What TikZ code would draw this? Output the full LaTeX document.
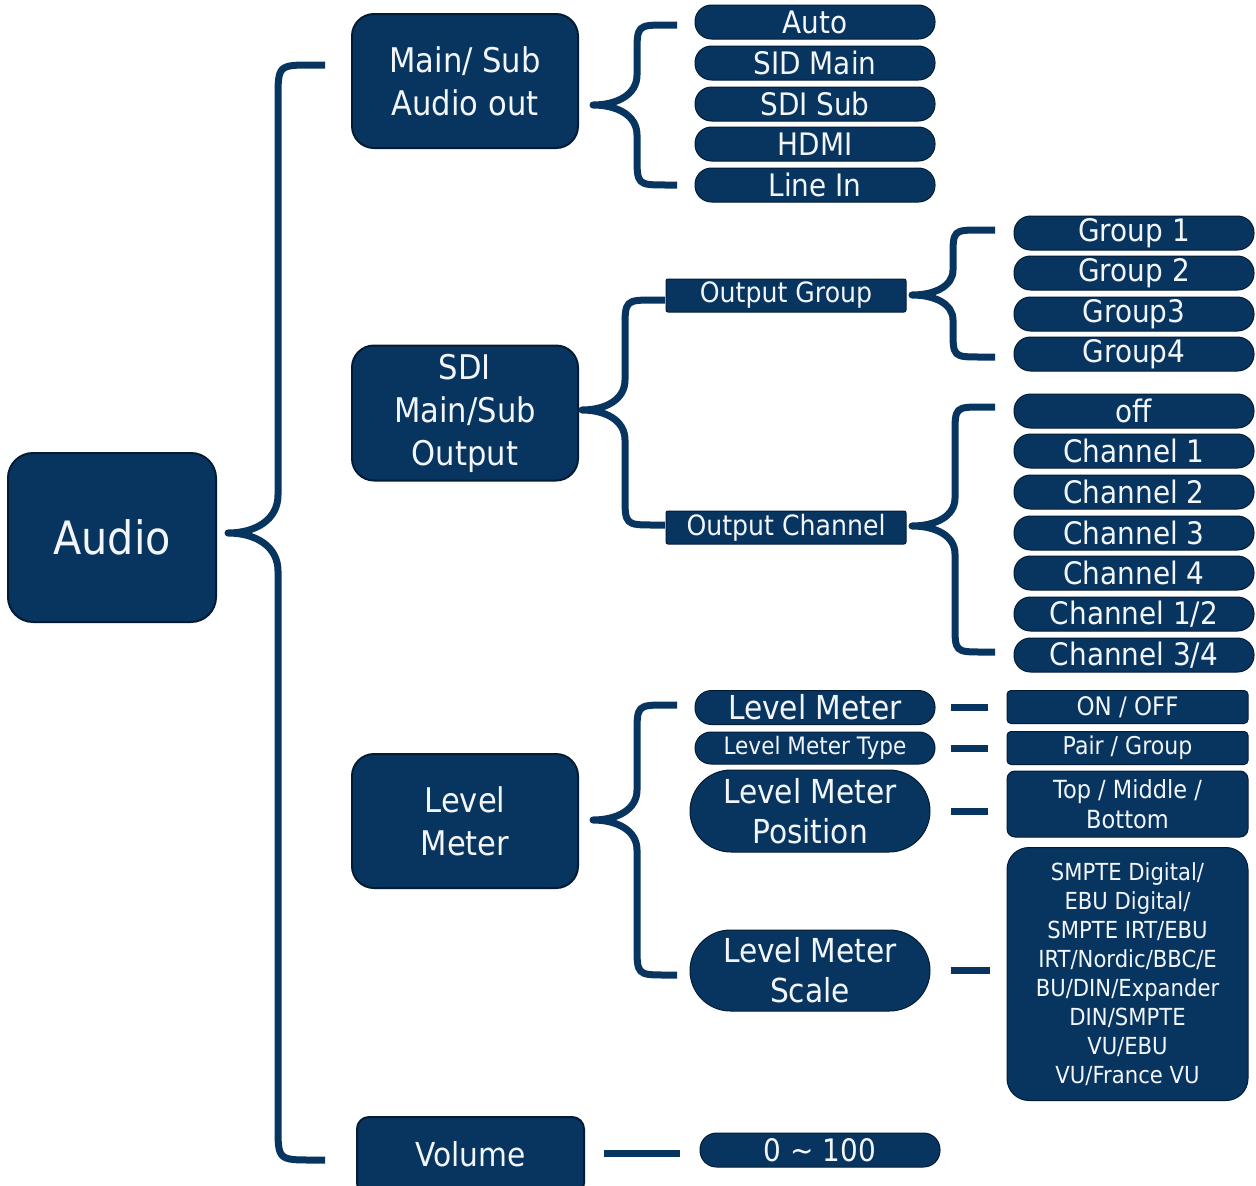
\documentclass[tikz,border=0pt]{standalone}
\usepackage{fontspec}
\setmainfont{DejaVu Sans}[FakeStretch=0.9]
\usetikzlibrary{calc}
\definecolor{navy}{RGB}{8,53,96}
\definecolor{edgec}{RGB}{3,28,52}
\definecolor{txt}{RGB}{242,246,250}
\newcommand\mybrace[8]{%
  \draw[bracel] (#6,#4) -- ({#3+#7},#4) .. controls (#3,#4) .. (#3,{#4+#7})
    -- (#3,{#2-#8}) .. controls (#3,{#2-0.35*#8}) and ({#3-0.45*(#3-#1)},#2) .. (#1,#2)
    .. controls ({#3-0.45*(#3-#1)},#2) and (#3,{#2+0.35*#8}) .. (#3,{#2+#8})
    -- (#3,{#5-#7}) .. controls (#3,#5) .. ({#3+#7},#5) -- (#6,#5);}
\tikzset{
  base/.style={draw=edgec, fill=navy, text=txt, inner sep=0pt, align=center},
  bigbox/.style={base, line width=2pt, rounded corners=22pt, minimum width=226pt,
     minimum height=134pt, font=\fontsize{34}{43}\selectfont},
  pill/.style={base, line width=1pt, rounded corners=16.5pt, minimum width=240pt,
     minimum height=34pt, font=\fontsize{31}{36}\selectfont},
  tagbox/.style={base, line width=1pt, rounded corners=2pt, minimum width=240pt,
     minimum height=33pt, font=\fontsize{28}{32}\selectfont},
  valbox/.style={base, line width=1pt, rounded corners=4pt, minimum width=241pt,
     minimum height=33pt, font=\fontsize{25}{29}\selectfont},
  bracel/.style={draw=navy, line width=7pt, line join=round},
  dashl/.style={draw=navy, line width=7pt},
}
\begin{document}
\begin{tikzpicture}[x=1pt,y=-1pt]
\useasboundingbox (0,0) rectangle (1256,1186);
\clip (0,0) rectangle (1256,1186);
\fill[white] (0,0) rectangle (1256,1186);

% main boxes
\node[bigbox, minimum width=208pt, minimum height=169pt, rounded corners=25pt,
      font=\fontsize{46}{50}\selectfont] (audio) at (112,537.5) {Audio};
\node[bigbox] (mainsub) at (465,81) {Main/ Sub\\Audio out};
\node[bigbox, minimum height=135pt] (sdi) at (465,413) {SDI\\Main/Sub\\Output};
\node[bigbox] (lmbox) at (465,821) {Level\\Meter};
\node[bigbox, minimum width=227pt, minimum height=78pt, rounded corners=12pt] (vol) at (470.5,1156) {};
\node[text=txt, font=\fontsize{33}{36}\selectfont] at (470.5,1154) {Volume};

% Audio out items
\node[pill] (auto) at (815,22) {Auto};
\node[pill] (sidmain) at (815,63) {SID Main};
\node[pill] (sdisub) at (815,104) {SDI Sub};
\node[pill] (hdmi) at (815,144) {HDMI};
\node[pill] (linein) at (815,185) {Line In};

% output group / channel
\node[tagbox] (ogroup) at (786,295.5) {Output Group};
\node[tagbox] (ochan) at (786,527.5) {Output Channel};

\node[pill] (g1) at (1134,233) {Group 1};
\node[pill] (g2) at (1134,273) {Group 2};
\node[pill] (g3) at (1134,314) {Group3};
\node[pill] (g4) at (1134,354) {Group4};

\node[pill] (c0) at (1134,411) {off};
\node[pill] (c1) at (1134,451) {Channel 1};
\node[pill] (c2) at (1134,492) {Channel 2};
\node[pill] (c3) at (1134,533) {Channel 3};
\node[pill] (c4) at (1134,573) {Channel 4};
\node[pill] (c12) at (1134,614) {Channel 1/2};
\node[pill] (c34) at (1134,655) {Channel 3/4};

% level meter items
\node[pill, font=\fontsize{33}{36}\selectfont] (lm1) at (815,707.5) {Level Meter};
\node[pill, minimum height=32pt, rounded corners=16pt, font=\fontsize{24}{28}\selectfont] (lm2) at (815,748) {Level Meter Type};
\node[pill, minimum height=82pt, rounded corners=41pt, font=\fontsize{33}{40}\selectfont] (lm3) at (810,811) {Level Meter\\Position};
\node[pill, minimum height=81pt, rounded corners=40.5pt, font=\fontsize{33}{40}\selectfont] (lm4) at (810,970.5) {Level Meter\\Scale};

\node[valbox, font=\fontsize{25.5}{29}\selectfont] (onoff) at (1127.5,707) {ON / OFF};
\node[valbox, font=\fontsize{24.5}{29}\selectfont] (pair) at (1127.5,748) {Pair / Group};
\node[valbox, minimum height=66pt, rounded corners=8pt, font=\fontsize{25}{30}\selectfont] (pos) at (1127.5,804) {Top / Middle /\\Bottom};
\node[valbox, minimum height=253pt, rounded corners=22pt, font=\fontsize{23.5}{29}\selectfont] (scale) at (1127.5,974)
  {SMPTE Digital/\\EBU Digital/\\SMPTE IRT/EBU\\IRT/Nordic/BBC/E\\BU/DIN/Expander\\DIN/SMPTE\\VU/EBU\\VU/France VU};

\node[pill] (v100) at (820,1150) {0 \textasciitilde{} 100};

% braces
\mybrace{228}{533}{278}{65}{1160}{325}{35}{38}
\mybrace{593}{105}{637}{25}{185}{677}{30}{30}
\mybrace{582}{410}{625}{300}{525}{665}{30}{30}
\mybrace{912}{295}{953}{230}{357}{995}{28}{25}
\mybrace{912}{526}{955}{407}{652}{995}{28}{28}
\mybrace{593}{820}{637}{705}{975}{677}{30}{30}

% dashes
\draw[dashl, shorten <=15pt, shorten >=19pt] (lm1.east) -- (lm1.east -| onoff.west);
\draw[dashl, shorten <=15pt, shorten >=19pt] (lm2.east) -- (lm2.east -| pair.west);
\draw[dashl, shorten <=20pt, shorten >=19pt] (lm3.east) -- (lm3.east -| pos.west);
\draw[dashl, shorten <=20pt, shorten >=17pt] (lm4.east) -- (lm4.east -| scale.west);
\coordinate (volr) at ($(vol.east)+(0,-3)$);
\draw[dashl, shorten <=19pt, shorten >=20pt] (volr) -- (volr -| v100.west);
\end{tikzpicture}
\end{document}
